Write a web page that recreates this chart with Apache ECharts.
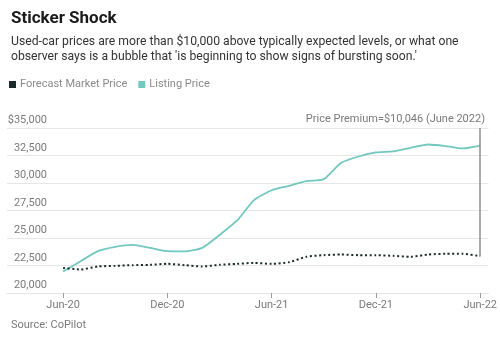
<!DOCTYPE html>
<html>
<head>
<meta charset="utf-8">
<script src="https://cdn.jsdelivr.net/npm/echarts@6/dist/echarts.min.js"></script>
<style>
  html, body { margin: 0; padding: 0; background: #fff; }
  #chart { width: 500px; height: 337px; }
</style>
</head>
<body>
<div id="chart"></div>
<script>
// Monthly used-car prices, Jun 2020 – Jun 2022
const months = ['Jun-20','Jul-20','Aug-20','Sep-20','Oct-20','Nov-20','Dec-20',
  'Jan-21','Feb-21','Mar-21','Apr-21','May-21','Jun-21','Jul-21','Aug-21','Sep-21',
  'Oct-21','Nov-21','Dec-21','Jan-22','Feb-22','Mar-22','Apr-22','May-22','Jun-22'];

const forecastMarketPrice = [22280, 22140, 22410, 22470, 22530, 22560, 22650,
  22530, 22410, 22560, 22650, 22740, 22650, 22800, 23290, 23440,
  23500, 23440, 23440, 23380, 23290, 23500, 23560, 23560, 23350];

const listingPrice = [21950, 22880, 23800, 24200, 24380, 24100, 23800,
  23780, 24100, 25270, 26570, 28460, 29340, 29740, 30160, 30350,
  31840, 32410, 32780, 32870, 33200, 33500, 33360, 33140, 33396];

const tickMonths = [0, 6, 12, 18, 24];

const last = months.length - 1;
const premium = listingPrice[last] - forecastMarketPrice[last];

const FONT = 'Roboto, "Liberation Sans", sans-serif';
const GREY = '#7a7a7a';
const TEAL = '#72c8bf';
const DARK = '#1c2a2a';

const toPairs = arr => arr.map((v, i) => [i, v]);

const chart = echarts.init(document.getElementById('chart'), null, { renderer: 'canvas' });
chart.setOption({
  animation: false,
  textStyle: { fontFamily: FONT },
  title: [
    {
      text: 'Sticker Shock', left: 6, top: 5,
      textStyle: { fontFamily: FONT, fontSize: 17, fontWeight: 'bold', color: '#1a1a1a' }
    },
    {
      text: 'Used-car prices are more than $10,000 above typically expected levels, or what one\nobserver says is a bubble that \'is beginning to show signs of bursting soon.\'',
      left: 6, top: 29,
      textStyle: { fontFamily: FONT, fontSize: 12.2, fontWeight: 'normal', color: '#333', lineHeight: 15 }
    },
    {
      text: 'Source: CoPilot', left: 6, top: 315,
      textStyle: { fontFamily: FONT, fontSize: 11, fontWeight: 'normal', color: GREY }
    },
    {
      text: 'Price Premium=$' + premium.toLocaleString('en-US') + ' (June 2022)',
      right: 10, top: 109,
      textStyle: { fontFamily: FONT, fontSize: 11, fontWeight: 'normal', color: GREY }
    }
  ],
  legend: {
    left: 4, top: 74,
    icon: 'rect', itemWidth: 7, itemHeight: 7, itemGap: 11,
    textStyle: { fontFamily: FONT, fontSize: 11, color: '#8a8a8a', padding: [0, 0, 0, -1] },
    data: ['Forecast Market Price', 'Listing Price']
  },
  grid: { left: 7, right: 10, top: 128, bottom: 44, containLabel: false },
  xAxis: {
    type: 'value',
    min: -3.23, max: 24.476,
    axisLine: { show: true, lineStyle: { color: '#e6e6e6', width: 1 } },
    axisTick: { show: true, customValues: tickMonths, length: 5, lineStyle: { color: '#9a9a9a' } },
    axisLabel: {
      customValues: tickMonths, color: GREY, fontSize: 11, margin: 7,
      formatter: v => months[Math.round(v)] || ''
    },
    splitLine: { show: false }
  },
  yAxis: {
    type: 'value',
    min: 20000, max: 35000, interval: 2500,
    axisLine: { show: false },
    axisTick: { show: false },
    axisLabel: {
      color: GREY, fontSize: 11, margin: -40, align: 'right', verticalAlign: 'bottom',
      padding: [0, 0, 2, 0],
      formatter: v => (v === 35000 ? '$' : '') + v.toLocaleString('en-US')
    },
    splitLine: { lineStyle: { color: '#e6e6e6', width: 1 } }
  },
  series: [
    {
      name: 'Forecast Market Price',
      type: 'line',
      data: toPairs(forecastMarketPrice),
      showSymbol: false,
      smooth: 0.2,
      itemStyle: { color: DARK },
      lineStyle: { color: DARK, width: 2, type: [2, 2.6] },
      z: 3,
      markLine: {
        silent: true,
        symbol: 'none',
        label: { show: false },
        lineStyle: { color: '#8c8c8c', width: 1.5, type: 'solid' },
        data: [[{ coord: [last, 35000] }, { coord: [last, forecastMarketPrice[last]] }]]
      }
    },
    {
      name: 'Listing Price',
      type: 'line',
      data: toPairs(listingPrice),
      showSymbol: false,
      smooth: 0.2,
      itemStyle: { color: TEAL },
      lineStyle: { color: TEAL, width: 1.8 },
      z: 2
    }
  ]
});
</script>
</body>
</html>
